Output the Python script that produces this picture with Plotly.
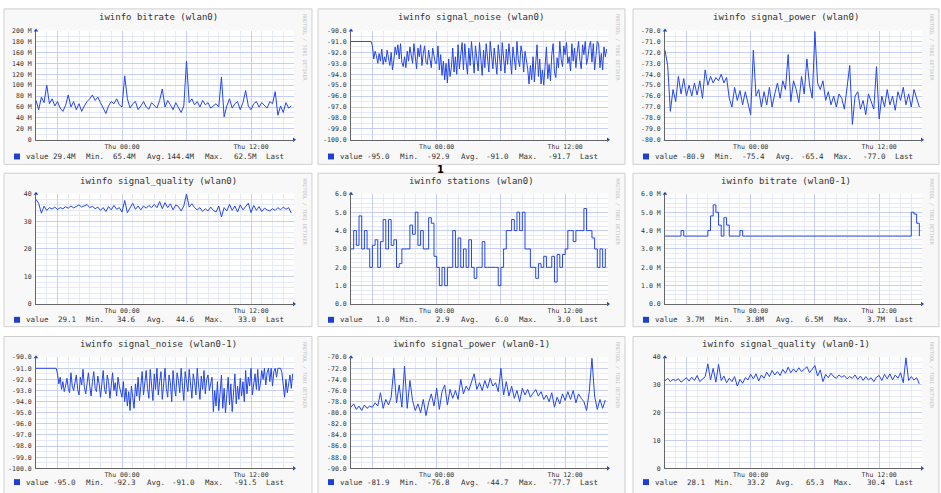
import plotly.graph_objects as go

W, H = 941, 493

# time axes: hours relative to Thu 00:00 (15-min samples, and 7.5-min samples for noise)
hours = [-8 + 0.25 * i for i in range(96)]
hours_fine = [-8 + 0.125 * i for i in range(192)]

titles = [
    "iwinfo bitrate (wlan0)", "iwinfo signal_noise (wlan0)", "iwinfo signal_power (wlan0)",
    "iwinfo signal_quality (wlan0)", "iwinfo stations (wlan0)", "iwinfo bitrate (wlan0-1)",
    "iwinfo signal_noise (wlan0-1)", "iwinfo signal_power (wlan0-1)", "iwinfo signal_quality (wlan0-1)",
]

bitrate_wlan0 = [
    72, 55, 78, 68, 100, 66, 75, 62, 70, 58,
    52, 63, 82, 60, 70, 55, 66, 52, 62, 70,
    75, 82, 72, 78, 68, 58, 48, 62, 70, 66,
    75, 64, 60, 117, 75, 58, 66, 70, 55, 62,
    70, 60, 56, 68, 62, 58, 72, 93, 60, 72,
    64, 55, 68, 60, 50, 62, 144, 68, 75, 64,
    70, 60, 72, 64, 68, 58, 62, 66, 60, 115,
    42, 62, 75, 58, 66, 70, 55, 68, 90, 62,
    55, 66, 70, 60, 68, 62, 58, 70, 66, 88,
    45, 62, 50, 68, 58, 62,
]
signal_noise_wlan0 = [
    -91.0, -91.0, -91.0, -91.0, -91.0, -91.0, -91.0, -91.0,
    -91.0, -91.0, -91.0, -91.0, -91.0, -91.0, -91.0, -91.0,
    -91.4, -92.6, -91.9, -92.3, -93.0, -92.1, -92.8, -91.7, -93.1, -92.4, -92.9, -91.8,
    -92.5, -93.2, -92.0, -93.6, -92.7, -91.5, -92.2, -91.3, -92.6, -91.2, -92.9, -93.3,
    -92.4, -93.4, -91.9, -92.8, -91.5, -92.3, -93.0, -91.2, -92.7, -93.5, -91.6, -92.4,
    -91.3, -93.2, -92.1, -91.4, -92.9, -93.1, -91.8, -92.5, -93.4, -91.6, -92.2, -93.0,
    -93.0, -91.4, -93.6, -92.2, -94.1, -92.8, -94.5, -93.0, -94.8, -92.6,
    -94.2, -93.4, -91.6, -93.8, -92.4, -94.0, -91.3, -93.5, -92.2, -91.1,
    -93.6, -91.2, -92.8, -94.0, -91.6, -93.2, -91.0, -92.5, -93.9, -91.4, -92.7, -93.7,
    -91.1, -92.3, -94.1, -91.8, -93.4, -91.2, -92.9, -93.8, -91.0, -92.4, -93.5, -91.6,
    -93.0, -94.0, -91.3, -92.6, -93.7, -91.1, -92.2, -93.9, -91.7, -93.1, -91.2, -92.8,
    -94.0, -91.5, -92.4, -93.6, -91.0, -92.7, -93.3, -91.4, -92.1, -93.8, -91.9, -92.6,
    -93.5, -94.9, -93.2, -94.5, -92.4, -94.7, -93.0, -91.3, -94.2, -92.6, -94.9, -93.6,
    -95.0, -92.8, -91.5, -94.4, -93.1, -94.6, -92.2, -91.2, -93.8, -94.3, -92.5, -93.4,
    -91.0, -92.6, -93.3, -91.4, -92.2, -91.1, -93.0, -92.4, -93.7, -91.2, -92.8, -91.6,
    -93.4, -92.0, -91.0, -92.7, -93.5, -91.3, -92.2, -91.0, -93.1, -92.5, -91.4, -91.0,
    -92.9, -91.2, -93.6, -92.3, -91.0, -91.2, -93.4, -92.1, -93.6, -91.5, -92.4, -91.7,
]
signal_power_wlan0 = [
    -71.8, -73.2, -77.4, -75.4, -76.5, -74.2, -75.8, -74.4, -76.0, -75.0,
    -76.0, -74.8, -75.9, -74.6, -76.2, -73.6, -75.0, -74.2, -74.8, -74.3,
    -74.6, -74.0, -74.8, -74.3, -76.2, -77.0, -75.2, -76.4, -75.5, -76.8,
    -75.6, -76.6, -77.7, -71.8, -76.0, -75.4, -77.0, -75.6, -76.8, -75.2,
    -77.0, -75.8, -74.8, -76.2, -74.6, -75.4, -72.2, -76.5, -74.6, -75.4,
    -76.6, -74.2, -75.8, -72.6, -75.0, -76.2, -70.1, -74.8, -75.4, -74.6,
    -76.4, -75.6, -76.8, -76.0, -77.0, -75.8, -76.2, -77.2, -75.4, -73.2,
    -78.6, -76.0, -75.6, -77.2, -76.4, -77.7, -75.8, -76.6, -77.2, -73.3,
    -78.1, -76.0, -77.0, -75.4, -76.8, -76.0, -77.3, -75.6, -76.4, -75.2,
    -76.8, -75.8, -77.0, -75.4, -76.2, -77.0,
]
signal_quality_wlan0 = [
    38.0, 36.5, 33.0, 35.5, 34.0, 35.0, 34.5, 35.2, 34.3, 35.0,
    34.6, 35.3, 34.8, 35.6, 34.9, 35.4, 36.0, 35.2, 35.8, 36.1,
    35.0, 35.5, 34.6, 35.2, 34.0, 35.0, 33.6, 35.4, 34.2, 35.8,
    34.4, 35.0, 33.4, 37.6, 33.2, 35.0, 36.6, 34.4, 35.6, 34.2,
    35.6, 34.8, 35.8, 35.0, 36.2, 35.0, 37.2, 34.6, 36.8, 35.0,
    36.4, 34.2, 36.0, 35.4, 33.8, 35.6, 40.0, 35.2, 36.4, 35.0,
    34.2, 35.0, 33.6, 34.6, 33.8, 35.2, 34.0, 33.4, 35.6, 31.6,
    35.0, 33.8, 36.2, 34.0, 35.6, 33.4, 36.0, 34.2, 35.4, 36.6,
    33.2, 35.8, 34.0, 35.4, 33.6, 34.8, 34.2, 33.8, 34.6, 34.0,
    35.0, 34.2, 35.2, 34.4, 35.0, 33.0,
]
stations_wlan0 = [
    3.0, 4.0, 3.2, 4.8, 3.0, 4.0, 3.0, 2.0, 3.2, 3.5,
    2.0, 3.4, 4.6, 3.0, 4.6, 3.2, 3.5, 2.0, 2.2, 3.0,
    3.0, 3.0, 4.3, 3.8, 5.0, 3.2, 4.0, 3.0, 3.0, 4.7,
    4.4, 2.6, 2.0, 1.0, 2.0, 1.0, 2.0, 2.0, 4.0, 2.0,
    3.6, 2.0, 3.0, 2.0, 3.5, 2.0, 1.4, 2.0, 2.0, 3.4,
    2.0, 2.0, 2.0, 2.0, 2.0, 1.0, 2.0, 3.0, 4.0, 4.0,
    4.6, 4.0, 5.0, 4.0, 5.0, 3.0, 3.0, 2.0, 2.0, 1.4,
    2.2, 2.0, 2.6, 2.0, 2.0, 2.6, 1.2, 2.7, 2.0, 2.7,
    3.0, 4.0, 4.0, 3.4, 4.0, 4.0, 4.0, 5.2, 4.0, 4.0,
    3.6, 3.0, 2.0, 3.0, 2.0, 3.0,
]
bitrate_wlan0_1 = [
    3.7, 3.7, 3.7, 3.7, 3.7, 3.7, 4.0, 3.7, 3.7, 3.7,
    3.7, 3.7, 3.7, 3.7, 3.7, 3.7, 4.0, 4.8, 5.4, 5.0,
    4.3, 3.7, 4.7, 4.3, 3.7, 3.7, 3.7, 3.7, 4.0, 3.7,
    3.7, 3.7, 3.7, 3.7, 3.7, 3.7, 3.7, 3.7, 3.7, 3.7,
    3.7, 3.7, 3.7, 3.7, 3.7, 3.7, 3.7, 3.7, 3.7, 3.7,
    3.7, 3.7, 3.7, 3.7, 3.7, 3.7, 3.7, 3.7, 3.7, 3.7,
    3.7, 3.7, 3.7, 3.7, 3.7, 3.7, 3.7, 3.7, 3.7, 3.7,
    3.7, 3.7, 3.7, 3.7, 3.7, 3.7, 3.7, 3.7, 3.7, 3.7,
    3.7, 3.7, 3.7, 3.7, 3.7, 3.7, 3.7, 3.7, 3.7, 3.7,
    3.7, 3.7, 5.0, 4.9, 4.4, 3.7,
]
signal_noise_wlan0_1 = [
    -91.0, -91.0, -91.0, -91.0, -91.0, -91.0, -91.0, -91.0,
    -91.0, -91.0, -91.0, -91.0, -91.0, -91.0, -91.0, -91.0,
    -91.5, -92.4, -91.8, -92.9, -92.2, -93.1, -92.6, -91.9, -92.8, -93.2, -91.4, -92.6,
    -93.0, -92.2, -91.6, -92.9, -93.4, -91.8, -92.5, -91.1, -92.7, -93.3, -92.0, -91.4,
    -92.6, -93.5, -92.2, -91.3, -92.8, -93.1, -91.7, -92.4, -93.6, -92.0, -91.2, -92.9,
    -93.3, -91.6, -92.2, -93.7, -92.5, -91.4, -93.0, -92.3, -93.5, -91.8, -92.6, -93.2,
    -93.6, -92.2, -94.0, -92.8, -94.4, -93.1, -94.8, -92.6, -93.9, -94.6,
    -92.4, -93.5, -91.8, -93.9, -92.6, -91.3, -93.4, -92.1, -91.2, -92.8,
    -93.7, -91.1, -92.6, -93.9, -91.5, -92.9, -91.0, -93.4, -92.2, -91.3, -93.8, -92.5,
    -91.0, -92.8, -93.6, -91.6, -92.3, -94.0, -91.2, -92.7, -93.5, -91.4, -92.1, -93.2,
    -91.0, -92.6, -93.9, -91.3, -92.4, -93.1, -91.1, -92.8, -93.7, -91.5, -92.2, -93.4,
    -91.0, -92.5, -93.8, -91.7, -92.9, -91.2, -93.3, -92.0, -91.6, -93.0, -92.4, -91.8,
    -94.9, -93.0, -94.4, -92.2, -94.8, -93.4, -91.6, -94.6, -92.8, -95.0, -93.6, -91.8,
    -94.3, -92.4, -94.9, -93.2, -91.5, -94.2, -92.6, -93.8, -91.9, -93.5, -92.2, -94.0,
    -91.2, -93.3, -91.8, -92.6, -91.0, -93.4, -92.2, -91.5, -92.9, -91.1, -93.0, -92.4,
    -91.2, -92.0, -91.0, -92.5, -91.4, -91.0, -92.2, -91.0, -92.6, -91.3, -91.0, -91.8,
    -91.0, -91.0, -91.0, -91.4, -92.3, -93.6, -92.0, -93.2, -92.4, -91.6, -92.8, -91.5,
]
signal_power_wlan0_1 = [
    -79.0, -78.4, -79.4, -78.8, -79.6, -78.6, -79.2, -78.8, -79.0, -78.2,
    -78.8, -76.4, -79.2, -77.6, -78.6, -77.2, -72.0, -78.2, -75.0, -79.0,
    -71.6, -79.2, -74.2, -77.8, -79.6, -78.4, -80.0, -77.6, -80.5, -78.2,
    -76.6, -78.8, -75.6, -79.4, -76.2, -75.0, -78.6, -75.8, -77.4, -76.0,
    -77.6, -74.0, -76.6, -75.2, -76.0, -74.4, -73.0, -75.8, -74.6, -76.0,
    -74.2, -75.6, -73.8, -75.2, -74.6, -76.2, -72.0, -76.8, -74.4, -77.0,
    -75.2, -77.4, -76.0, -78.0, -75.6, -76.8, -75.8, -77.2, -76.4, -75.8,
    -77.0, -76.2, -77.6, -76.8, -78.0, -76.4, -79.0, -77.2, -78.4, -76.6,
    -77.8, -76.2, -77.6, -76.0, -78.2, -76.6, -77.4, -78.0, -79.6, -76.2,
    -70.2, -77.0, -79.4, -77.6, -79.2, -77.7,
]
signal_quality_wlan0_1 = [
    31.5, 32.4, 31.2, 32.0, 31.6, 32.2, 31.0, 31.8, 32.6, 31.4,
    32.8, 31.6, 33.4, 31.2, 32.0, 33.0, 37.6, 31.8, 36.0, 31.0,
    37.4, 31.6, 33.2, 30.8, 32.4, 31.2, 33.0, 29.6, 32.0, 30.6,
    32.6, 31.8, 33.8, 32.2, 34.0, 31.4, 33.6, 32.4, 34.6, 33.0,
    35.2, 33.6, 34.8, 33.4, 35.6, 34.2, 36.4, 34.4, 35.8, 34.6,
    36.2, 34.8, 35.6, 36.6, 34.4, 35.8, 37.0, 33.2, 35.4, 31.2,
    33.8, 32.6, 34.2, 33.0, 32.4, 33.6, 32.8, 33.4, 32.2, 33.0,
    32.4, 33.6, 32.0, 33.2, 31.6, 33.0, 31.8, 32.6, 31.2, 32.8,
    33.4, 31.6, 33.8, 32.2, 34.0, 31.8, 33.6, 32.4, 34.4, 30.8,
    39.8, 31.6, 33.0, 31.8, 32.6, 30.4,
]

series = [bitrate_wlan0, signal_noise_wlan0, signal_power_wlan0,
          signal_quality_wlan0, stations_wlan0, bitrate_wlan0_1,
          signal_noise_wlan0_1, signal_power_wlan0_1, signal_quality_wlan0_1]
series_x = [hours, hours_fine, hours, hours, hours, hours, hours_fine, hours, hours]
step_shape = [False, False, False, False, True, True, False, False, False]

y_ranges = [[0, 200], [-100, -90], [-80, -70], [0, 40], [0, 6], [0, 6],
            [-100, -90], [-90, -70], [0, 40]]
y_minor = [10, 0.5, 0.5, 2, 0.25, 0.25, 0.5, 1, 2]

noise_vals = [-100, -99, -98, -97, -96, -95, -94, -93, -92, -91, -90]
noise_text = ["-100.0", "-99.0", "-98.0", "-97.0", "-96.0", "-95.0", "-94.0",
              "-93.0", "-92.0", "-91.0", "-90.0"]
ytick_vals = [
    [0, 20, 40, 60, 80, 100, 120, 140, 160, 180, 200],
    noise_vals,
    [-80, -79, -78, -77, -76, -75, -74, -73, -72, -71, -70],
    [0, 10, 20, 30, 40],
    [0, 1, 2, 3, 4, 5, 6],
    [0, 1, 2, 3, 4, 5, 6],
    noise_vals,
    [-90, -88, -86, -84, -82, -80, -78, -76, -74, -72, -70],
    [0, 10, 20, 30, 40],
]
ytick_text = [
    ["0", "20 M", "40 M", "60 M", "80 M", "100 M", "120 M", "140 M", "160 M", "180 M", "200 M"],
    noise_text,
    ["-80.0", "-79.0", "-78.0", "-77.0", "-76.0", "-75.0", "-74.0", "-73.0", "-72.0", "-71.0", "-70.0"],
    ["0", "10", "20", "30", "40"],
    ["0.0", "1.0", "2.0", "3.0", "4.0", "5.0", "6.0"],
    ["0.0", "1.0 M", "2.0 M", "3.0 M", "4.0 M", "5.0 M", "6.0 M"],
    noise_text,
    ["-90.0", "-88.0", "-86.0", "-84.0", "-82.0", "-80.0", "-78.0", "-76.0", "-74.0", "-72.0", "-70.0"],
    ["0", "10", "20", "30", "40"],
]
xtick_vals = [-6, 0, 6, 12]
xtick_text = ["", "Thu 00:00", "", "Thu 12:00"]

stats = [
    ["29.4M", "65.4M", "144.4M", "62.5M"],
    ["-95.0", "-92.9", "-91.0", "-91.7"],
    ["-80.9", "-75.4", "-65.4", "-77.0"],
    ["29.1", "34.6", "44.6", "33.0"],
    ["1.0", "2.9", "6.0", "3.0"],
    ["3.7M", "3.8M", "6.5M", "3.7M"],
    ["-95.0", "-92.3", "-91.0", "-91.5"],
    ["-81.9", "-76.8", "-44.7", "-77.7"],
    ["28.1", "33.2", "65.3", "30.4"],
]
stat_labels = ["Min.", "Avg.", "Max.", "Last"]

# ---------------- styling / geometry (pixels) ----------------
MONO = "DejaVu Sans Mono"
LINE = "#2446e8"
GRID_MAJ = "#c6cef4"
GRID_MIN = "#e6e9fa"
AXIS = "#666666"
TXT = "#333333"

COL_FRAME = [(4, 312), (318, 625), (633, 939)]
COL_PLOT = [(36, 294), (351, 608), (665, 922)]
ROW_FRAME = [(5, 163), (172, 328), (338, 505)]
ROW_PLOT = [(27, 138), (193, 305), (359, 472)]
ROW_TITLE = [13, 180, 346]
ROW_LEGEND = [155, 321, 486]


def px(x):
    return x / W


def py(y):
    return 1 - y / H


fig = go.Figure()
shapes = []
annotations = []

for k in range(9):
    r, c = divmod(k, 3)
    n = k + 1
    xa = "x" if n == 1 else f"x{n}"
    ya = "y" if n == 1 else f"y{n}"
    fx0, fx1 = COL_FRAME[c]
    fy0, fy1 = ROW_FRAME[r]
    pxx0, pxx1 = COL_PLOT[c]
    pyy0, pyy1 = ROW_PLOT[r]

    # panel frame and canvas
    shapes.append(dict(type="rect", xref="paper", yref="paper", layer="below",
                       x0=px(fx0), x1=px(fx1), y0=py(fy1), y1=py(fy0),
                       line=dict(color="#cfcfcf", width=1), fillcolor="#f8f8f8"))
    shapes.append(dict(type="rect", xref="paper", yref="paper", layer="below",
                       x0=px(pxx0), x1=px(pxx1), y0=py(pyy1), y1=py(pyy0),
                       line=dict(width=0), fillcolor="#ffffff"))

    fig.add_trace(go.Scatter(
        x=series_x[k], y=series[k], mode="lines", xaxis=xa, yaxis=ya,
        line=dict(color=LINE, width=1, shape="hv" if step_shape[k] else "linear"),
        showlegend=False, hoverinfo="skip"))

    # axis arrows
    xr = [-8, 16]
    yr = y_ranges[k]
    fig.add_trace(go.Scatter(
        x=[xr[1], xr[0]], y=[yr[0], yr[1]], mode="markers", xaxis=xa, yaxis=ya,
        marker=dict(symbol=["triangle-right", "triangle-up"], size=4, color="#2040c8"),
        cliponaxis=False, showlegend=False, hoverinfo="skip"))

    fig.layout[f"xaxis{'' if n == 1 else n}"] = dict(
        domain=[px(pxx0), px(pxx1)], range=xr, anchor=ya,
        tickmode="array", tickvals=xtick_vals, ticktext=xtick_text, ticks="",
        showgrid=True, gridcolor=GRID_MAJ, gridwidth=1, zeroline=False,
        showline=True, linecolor=AXIS, linewidth=1,
        minor=dict(tickmode="linear", tick0=0, dtick=1, showgrid=True,
                   gridcolor=GRID_MIN, gridwidth=1),
        tickfont=dict(family=MONO, size=6.5, color=TXT), fixedrange=True)
    fig.layout[f"yaxis{'' if n == 1 else n}"] = dict(
        domain=[py(pyy1), py(pyy0)], range=yr, anchor=xa,
        tickmode="array", tickvals=ytick_vals[k], ticktext=ytick_text[k], ticks="",
        showgrid=True, gridcolor=GRID_MAJ, gridwidth=1, zeroline=False,
        showline=True, linecolor=AXIS, linewidth=1, ticklabelstandoff=2,
        minor=dict(tickmode="linear", tick0=yr[0], dtick=y_minor[k], showgrid=True,
                   gridcolor=GRID_MIN, gridwidth=1),
        tickfont=dict(family=MONO, size=6.5, color=TXT), fixedrange=True)

    # title
    annotations.append(dict(text=titles[k], xref="paper", yref="paper",
                            x=px((fx0 + fx1) / 2), y=py(ROW_TITLE[r]),
                            xanchor="center", yanchor="middle", showarrow=False,
                            font=dict(family=MONO, size=9, color=TXT)))
    # vertical watermark
    annotations.append(dict(text="RRDTOOL / TOBI OETIKER", xref="paper", yref="paper",
                            x=px(fx1 - 7), y=py(fy0 + 39), textangle=90,
                            xanchor="center", yanchor="middle", showarrow=False,
                            font=dict(family=MONO, size=5, color="#c4c4c4")))
    # legend row
    ly = ROW_LEGEND[r]
    shapes.append(dict(type="rect", xref="paper", yref="paper",
                       x0=px(fx0 + 10), x1=px(fx0 + 16), y0=py(ly + 3), y1=py(ly - 3),
                       line=dict(width=0), fillcolor="#1f3ed6"))
    annotations.append(dict(text="value", xref="paper", yref="paper",
                            x=px(fx0 + 20), y=py(ly), xanchor="left", yanchor="middle",
                            showarrow=False, font=dict(family=MONO, size=7.5, color=TXT)))
    val_right = [74, 134, 193, 255]
    lab_left = [80, 141, 199, 260]
    for j in range(4):
        annotations.append(dict(text=stats[k][j], xref="paper", yref="paper",
                                x=px(fx0 + val_right[j]), y=py(ly), xanchor="right",
                                yanchor="middle", showarrow=False,
                                font=dict(family=MONO, size=7.5, color=TXT)))
        annotations.append(dict(text=stat_labels[j], xref="paper", yref="paper",
                                x=px(fx0 + lab_left[j]), y=py(ly), xanchor="left",
                                yanchor="middle", showarrow=False,
                                font=dict(family=MONO, size=7.5, color=TXT)))

# stray cursor glyph seen in the screenshot
annotations.append(dict(text="<b>1</b>", xref="paper", yref="paper",
                        x=px(440), y=py(168), xanchor="center", yanchor="middle",
                        showarrow=False, font=dict(family="DejaVu Sans", size=10, color="#000")))

fig.update_layout(width=W, height=H, margin=dict(l=0, r=0, t=0, b=0),
                  paper_bgcolor="#ffffff", plot_bgcolor="#ffffff",
                  shapes=shapes, annotations=annotations, showlegend=False)

fig.write_html("out.html", config={"displayModeBar": False},
               post_script="document.body.style.margin='0';document.body.style.overflow='hidden';")
